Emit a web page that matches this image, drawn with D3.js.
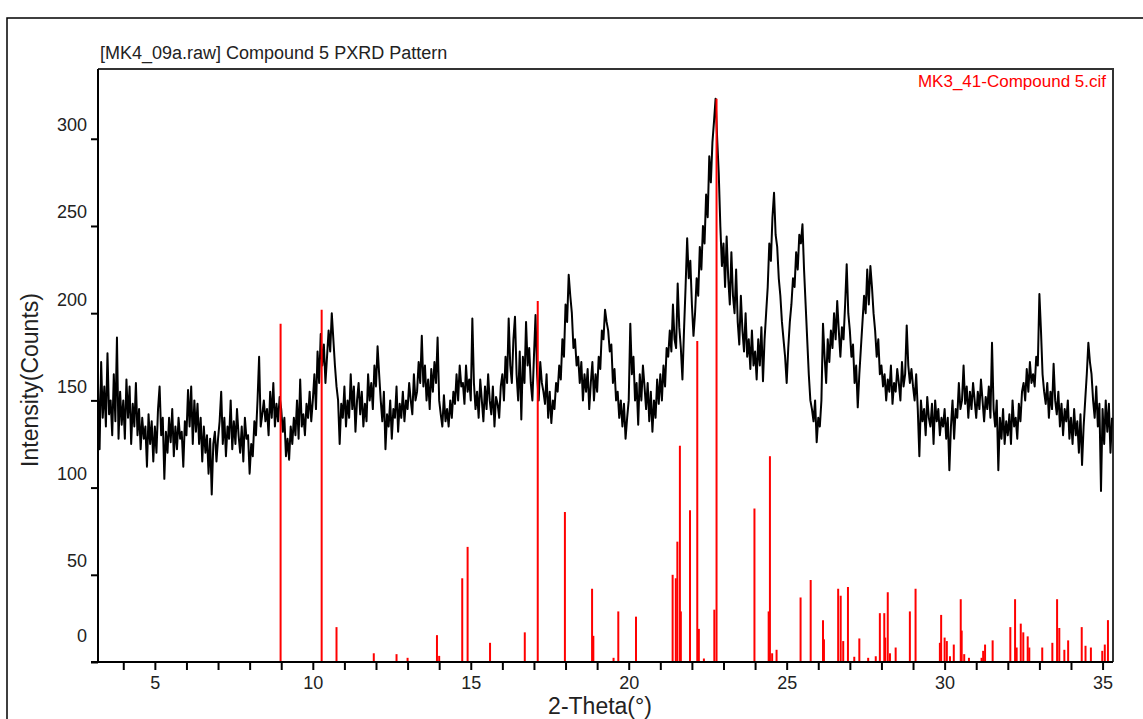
<!DOCTYPE html>
<html>
<head>
<meta charset="utf-8">
<script src="https://cdn.jsdelivr.net/npm/d3@7"></script>
<style>
  body { margin: 0; background: #fff; }
  text { font-family: "Liberation Sans", Arial, sans-serif; }
</style>
</head>
<body>
<svg id="chart"></svg>
<script>
const scanStart = 3.2;
const scanStep = 0.05;
const counts = [
  160, 122, 172, 140, 158, 135, 177, 142, 150, 130, 165, 138, 186, 128, 155, 136,
  150, 128, 162, 140, 158, 125, 148, 135, 160, 130, 145, 122, 140, 128, 135, 112, 142, 125, 138, 115,
  135, 120, 145, 158, 130, 140, 105, 132, 120, 140, 126, 145, 118, 135, 122, 140, 128, 132, 112, 138,
  130, 156, 135, 158, 125, 150, 132, 148, 125, 140, 115, 135, 120, 130, 108, 128, 96, 125, 132, 115,
  128, 138, 155, 125, 140, 118, 135, 128, 150, 122, 138, 125, 145, 130, 120, 135, 115, 140, 128, 130,
  108, 125, 118, 138, 130, 150, 175, 135, 142, 150, 138, 145, 130, 155, 140, 160, 135, 148, 138, 152,
  145, 132, 140, 118, 128, 116, 135, 125, 140, 130, 150, 128, 162, 135, 142, 130, 148, 140, 155, 138,
  150, 165, 145, 178, 160, 188, 170, 182, 160, 175, 190, 178, 200, 185, 170, 158, 150, 125, 148, 140,
  158, 135, 150, 140, 165, 145, 158, 132, 150, 160, 142, 155, 135, 148, 138, 165, 150, 160, 145, 170,
  158, 181, 165, 150, 138, 155, 122, 142, 135, 150, 128, 145, 140, 158, 132, 148, 140, 155, 138, 150,
  145, 160, 150, 142, 165, 150, 155, 172, 160, 187, 158, 170, 150, 162, 145, 168, 155, 172, 160, 186,
  150, 142, 135, 153, 138, 145, 135, 150, 140, 155, 148, 165, 150, 170, 158, 160, 148, 170, 155, 162,
  150, 197, 160, 145, 155, 140, 162, 150, 138, 158, 145, 165, 150, 142, 158, 135, 152, 148, 140, 158,
  165, 150, 175, 160, 197, 170, 160, 185, 198, 165, 150, 178, 139, 175, 160, 195, 170, 180, 160, 150,
  175, 199, 165, 150, 172, 160, 155, 148, 165, 140, 155, 137, 150, 145, 160, 155, 170, 162, 185, 175,
  205, 195, 222, 210, 200, 180, 185, 170, 175, 160, 172, 150, 165, 155, 168, 145, 160, 172, 150, 165,
  155, 175, 168, 190, 185, 202, 195, 190, 178, 182, 160, 168, 150, 155, 140, 150, 135, 148, 128, 140,
  150, 194, 165, 175, 150, 160, 136, 165, 150, 170, 158, 145, 160, 138, 155, 132, 150, 140, 162, 148,
  165, 150, 170, 158, 180, 175, 190, 178, 205, 185, 180, 217, 192, 180, 162, 190, 215, 243, 220, 230,
  205, 187, 200, 220, 210, 238, 225, 250, 240, 268, 255, 290, 275, 298, 310, 323, 300, 280, 250, 227,
  240, 215, 244, 220, 205, 235, 210, 200, 225, 195, 182, 210, 190, 178, 200, 175, 185, 168, 190, 170,
  178, 162, 185, 170, 192, 161, 185, 200, 215, 240, 230, 255, 269, 245, 238, 220, 210, 195, 185, 175,
  160, 180, 195, 205, 220, 215, 235, 225, 245, 240, 251, 225, 205, 185, 165, 150, 145, 138, 150, 126,
  140, 135, 150, 194, 175, 160, 185, 172, 190, 180, 200, 185, 207, 190, 175, 192, 185, 205, 228, 200,
  190, 175, 182, 160, 170, 146, 165, 180, 195, 210, 200, 225, 205, 227, 215, 200, 190, 175, 185, 165,
  170, 158, 165, 150, 162, 155, 170, 148, 160, 155, 168, 160, 150, 172, 158, 165, 193, 170, 160, 168,
  158, 150, 165, 145, 118, 150, 138, 145, 130, 152, 140, 135, 148, 125, 150, 138, 145, 130, 140, 135,
  145, 128, 140, 110, 135, 150, 128, 145, 140, 160, 145, 150, 170, 148, 158, 140, 155, 145, 160, 150,
  140, 155, 145, 162, 150, 138, 152, 145, 158, 140, 183, 145, 135, 150, 110, 140, 128, 145, 125, 138,
  130, 142, 125, 150, 135, 140, 128, 148, 138, 155, 160, 150, 168, 155, 172, 160, 165, 158, 175, 170,
  211, 190, 165, 155, 148, 160, 140, 155, 145, 171, 150, 142, 155, 135, 148, 130, 145, 138, 150, 128,
  140, 125, 145, 130, 138, 120, 142, 113, 135, 150, 165, 183, 172, 165, 150, 140, 158, 135, 148, 98,
  145, 125, 150, 132, 148, 120, 140
];

// reference pattern from the cif: peak positions and heights
const refPos = [
  8.98, 10.28, 10.75, 11.93, 12.65, 13.0, 13.93, 14.0,
  14.73, 14.9, 15.61, 16.71, 17.12, 17.98, 18.84, 18.88, 19.52, 19.67, 20.23,
  21.39, 21.49, 21.54, 21.62, 21.65, 21.94, 22.17, 22.22, 22.38, 22.71, 22.78,
  23.98, 24.43, 24.47, 24.54, 24.68, 25.44, 25.76, 26.15, 26.18,
  26.63, 26.71, 26.79, 26.94, 27.14, 27.3, 27.58, 27.82, 27.95, 28.09, 28.12, 28.2, 28.27, 28.45,
  28.9, 29.08, 29.85, 29.89, 30.0, 30.07, 30.17, 30.29, 30.51, 30.54, 30.62, 30.77,
  31.17, 31.22, 31.28, 31.52, 32.08, 32.23, 32.28, 32.41, 32.49, 32.63, 32.68,
  33.09, 33.41, 33.56, 33.63, 33.79, 33.91, 34.34, 34.46, 34.63, 34.99, 35.07, 35.17
];
const refHeight = [
  194, 202, 20, 5, 4.5, 2.4, 15.4, 3.5,
  48, 66, 11, 17, 207, 86, 42, 15, 2.4, 29, 26,
  50, 48, 69, 124, 29, 87, 184, 19, 2, 30, 323,
  88, 29, 118, 5, 7, 37, 47, 24, 13,
  42, 38, 12, 43, 3, 13.5, 2.4, 3.3, 28, 28, 14, 40, 5, 8.3,
  29, 42, 11, 27, 14, 12, 3.3, 10, 36, 18, 4.5, 2.4,
  2.4, 6.4, 10, 12.4, 20, 36, 8.3, 22, 17, 14.7, 8.3,
  8.3, 11, 36, 19.5, 7, 12.4, 20, 9.3, 8.3, 6.4, 10, 24
];

const yTicks = [0, 50, 100, 150, 200, 250, 300];
const xTicks = d3.range(4, 36);
const xLabels = [5, 10, 15, 20, 25, 30, 35];

const width = 1143, height = 719;
const margin = { top: 69, right: 30, bottom: 57, left: 98 };

const svg = d3.select('#chart').attr('width', width).attr('height', height);

// outer frame of the exported picture
svg.append('rect')
  .attr('x', 7).attr('y', 18)
  .attr('width', 1200).attr('height', 800)
  .attr('fill', 'none').attr('stroke', '#000').attr('stroke-width', 1.5);

const x = d3.scaleLinear().domain([3.2, 35.33]).range([margin.left, width - margin.right]);
const y = d3.scaleLinear().domain([0, 340]).range([height - margin.bottom, margin.top]);

const points = counts.map((c, i) => [scanStart + i * scanStep, c]);

// plot box (top and right edges)
svg.append('path')
  .attr('d', `M${x(3.2)},${y(340)}H${x(35.33)}V${y(0)}`)
  .attr('fill', 'none').attr('stroke', '#333').attr('stroke-width', 2);

// measured scan
svg.append('path')
  .datum(points)
  .attr('fill', 'none')
  .attr('stroke', '#000')
  .attr('stroke-width', 2)
  .attr('stroke-linejoin', 'round')
  .attr('d', d3.line().x(d => x(d[0])).y(d => y(d[1])));

// reference sticks
svg.append('g').selectAll('line')
  .data(refPos.map((p, i) => [p, refHeight[i]]))
  .enter()
  .append('line')
  .attr('x1', d => x(d[0])).attr('x2', d => x(d[0]))
  .attr('y1', y(0)).attr('y2', d => y(d[1]))
  .attr('stroke', '#ff0000')
  .attr('stroke-width', 2);

// x axis
const xAxis = svg.append('g')
  .attr('transform', `translate(0,${y(0)})`)
  .call(d3.axisBottom(x).tickValues(xTicks).tickSize(8).tickPadding(6)
    .tickFormat(d => xLabels.includes(d) ? d : ''));
xAxis.select('.domain').attr('d', `M91,0H${x(35.33)}`).attr('stroke-width', 2);
xAxis.selectAll('.tick line').attr('stroke-width', 2);
xAxis.selectAll('.tick text').attr('font-size', 18).attr('fill', '#222')
  .attr('font-family', '"Liberation Sans", Arial, sans-serif');

// y axis (labels sit a little above their ticks)
const yAxis = svg.append('g')
  .attr('transform', `translate(${margin.left},0)`)
  .call(d3.axisLeft(y).tickValues(yTicks).tickSize(7).tickPadding(4));
yAxis.select('.domain').attr('d', `M0,${y(0)}V${y(340)}`).attr('stroke-width', 2);
yAxis.selectAll('.tick line').attr('stroke-width', 2);
yAxis.selectAll('.tick text').attr('font-size', 18).attr('fill', '#222')
  .attr('font-family', '"Liberation Sans", Arial, sans-serif')
  .attr('dy', d => d === 0 ? '-1.15em' : '-0.45em');

// titles
svg.append('text')
  .attr('x', 100).attr('y', 59)
  .attr('font-size', 18).attr('fill', '#222')
  .text('[MK4_09a.raw] Compound 5 PXRD Pattern');

svg.append('text')
  .attr('x', 1106).attr('y', 87)
  .attr('text-anchor', 'end')
  .attr('font-size', 17).attr('fill', '#ff0000')
  .text('MK3_41-Compound 5.cif');

svg.append('text')
  .attr('x', 600).attr('y', 714)
  .attr('text-anchor', 'middle')
  .attr('font-size', 23).attr('fill', '#222')
  .text('2-Theta(°)');

svg.append('text')
  .attr('transform', 'translate(38,380) rotate(-90)')
  .attr('text-anchor', 'middle')
  .attr('font-size', 23).attr('fill', '#222')
  .text('Intensity(Counts)');
</script>
</body>
</html>
